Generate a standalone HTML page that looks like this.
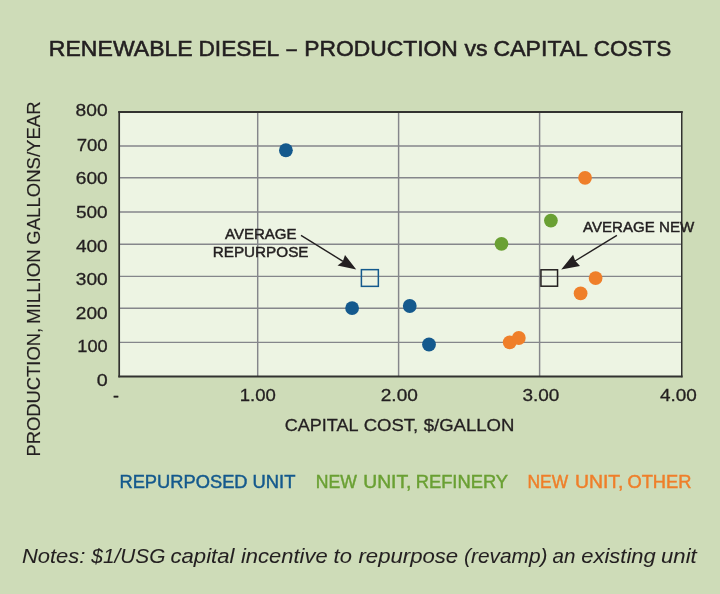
<!DOCTYPE html>
<html><head><meta charset="utf-8">
<style>
html,body{margin:0;padding:0;}
body{width:720px;height:594px;overflow:hidden;background:#cedcb8;}
svg{display:block;font-family:"Liberation Sans",Arial,Helvetica,sans-serif;}
</style></head><body>
<svg width="720" height="594" viewBox="0 0 720 594">
<rect width="720" height="594" fill="#cedcb8"/>
<text transform="translate(48.87,56.1) scale(1.0574,1)" font-size="21.8" fill="#231f20" stroke="#231f20" stroke-width="0.55">RENEWABLE</text>
<text transform="translate(198.40,56.1) scale(1.0427,1)" font-size="21.8" fill="#231f20" stroke="#231f20" stroke-width="0.55">DIESEL</text>
<text transform="translate(286.52,56.1) scale(0.8430,1)" font-size="21.8" fill="#231f20" stroke="#231f20" stroke-width="0.55">–</text>
<text transform="translate(304.14,56.1) scale(1.0486,1)" font-size="21.8" fill="#231f20" stroke="#231f20" stroke-width="0.55">PRODUCTION</text>
<text transform="translate(464.42,56.1) scale(1.0622,1)" font-size="21.8" fill="#231f20" stroke="#231f20" stroke-width="0.55">vs</text>
<text transform="translate(493.61,56.1) scale(1.0578,1)" font-size="21.8" fill="#231f20" stroke="#231f20" stroke-width="0.55">CAPITAL</text>
<text transform="translate(593.64,56.1) scale(1.0356,1)" font-size="21.8" fill="#231f20" stroke="#231f20" stroke-width="0.55">COSTS</text>
<rect x="119.2" y="112.0" width="562.55" height="264.5" fill="#edf4e3"/>
<g stroke="#85868b" stroke-width="1.4">
<line x1="119.2" x2="681.75" y1="146" y2="146"/>
<line x1="119.2" x2="681.75" y1="177.75" y2="177.75"/>
<line x1="119.2" x2="681.75" y1="212" y2="212"/>
<line x1="119.2" x2="681.75" y1="244.2" y2="244.2"/>
<line x1="119.2" x2="681.75" y1="276.35" y2="276.35"/>
<line x1="119.2" x2="681.75" y1="308.3" y2="308.3"/>
<line x1="119.2" x2="681.75" y1="342.4" y2="342.4"/>
<line y1="112.0" y2="376.5" x1="257.7" x2="257.7" stroke-width="1.45"/>
<line y1="112.0" y2="376.5" x1="398.6" x2="398.6" stroke-width="1.45"/>
<line y1="112.0" y2="376.5" x1="539.6" x2="539.6" stroke-width="1.45"/>
</g>
<g stroke="#323230" stroke-linecap="square">
<line x1="119.2" y1="112" x2="119.2" y2="376.5" stroke-width="1.7"/>
<line x1="119.2" y1="112" x2="681.75" y2="112" stroke-width="1.9"/>
<line x1="681.75" y1="112" x2="681.75" y2="376.5" stroke-width="1.5"/>
<line x1="119.2" y1="376.5" x2="681.75" y2="376.5" stroke-width="1.8"/>
</g>
<text transform="translate(75.61,116.4) scale(1.1315,1)" font-size="17" fill="#231f20" stroke="#231f20" stroke-width="0.3">800</text>
<text transform="translate(76.67,150.6) scale(1.0933,1)" font-size="17" fill="#231f20" stroke="#231f20" stroke-width="0.3">700</text>
<text transform="translate(75.74,183.8) scale(1.1269,1)" font-size="17" fill="#231f20" stroke="#231f20" stroke-width="0.3">600</text>
<text transform="translate(75.97,217.5) scale(1.1185,1)" font-size="17" fill="#231f20" stroke="#231f20" stroke-width="0.3">500</text>
<text transform="translate(75.95,251.7) scale(1.1190,1)" font-size="17" fill="#231f20" stroke="#231f20" stroke-width="0.3">400</text>
<text transform="translate(75.76,284.8) scale(1.1259,1)" font-size="17" fill="#231f20" stroke="#231f20" stroke-width="0.3">300</text>
<text transform="translate(75.85,319.2) scale(1.1227,1)" font-size="17" fill="#231f20" stroke="#231f20" stroke-width="0.3">200</text>
<text transform="translate(77.26,351.9) scale(1.0720,1)" font-size="17" fill="#231f20" stroke="#231f20" stroke-width="0.3">100</text>
<text transform="translate(96.74,386.0) scale(1.1605,1)" font-size="17" fill="#231f20" stroke="#231f20" stroke-width="0.3">0</text>
<text transform="translate(112.92,401.4) scale(1.0476,1)" font-size="17" fill="#231f20" stroke="#231f20" stroke-width="0.3">-</text>
<text transform="translate(239.73,401.4) scale(1.0916,1)" font-size="17" fill="#231f20" stroke="#231f20" stroke-width="0.3">1.00</text>
<text transform="translate(380.75,401.4) scale(1.1218,1)" font-size="17" fill="#231f20" stroke="#231f20" stroke-width="0.3">2.00</text>
<text transform="translate(522.47,401.4) scale(1.1151,1)" font-size="17" fill="#231f20" stroke="#231f20" stroke-width="0.3">3.00</text>
<text transform="translate(659.95,401.4) scale(1.1156,1)" font-size="17" fill="#231f20" stroke="#231f20" stroke-width="0.3">4.00</text>
<text transform="translate(284.71,430.9) scale(1.0479,1)" font-size="17.2" fill="#231f20" stroke="#231f20" stroke-width="0.3">CAPITAL</text>
<text transform="translate(363.68,430.9) scale(1.0778,1)" font-size="17.2" fill="#231f20" stroke="#231f20" stroke-width="0.3">COST,</text>
<text transform="translate(423.68,430.9) scale(1.0794,1)" font-size="17.2" fill="#231f20" stroke="#231f20" stroke-width="0.3">$/GALLON</text>
<text transform="translate(40.1,456.53) rotate(-90) scale(1.0212,1)" font-size="18" fill="#231f20" stroke="#231f20" stroke-width="0.15">PRODUCTION,</text>
<text transform="translate(40.1,324.06) rotate(-90) scale(1.0399,1)" font-size="18" fill="#231f20" stroke="#231f20" stroke-width="0.15">MILLION</text>
<text transform="translate(40.1,244.68) rotate(-90) scale(1.0317,1)" font-size="18" fill="#231f20" stroke="#231f20" stroke-width="0.15">GALLONS/YEAR</text>
<circle cx="285.9" cy="150.25" r="6.9" fill="#14598d"/>
<circle cx="352.1" cy="308.1" r="6.9" fill="#14598d"/>
<circle cx="409.75" cy="306" r="6.9" fill="#14598d"/>
<circle cx="429" cy="344.5" r="6.9" fill="#14598d"/>
<circle cx="501.5" cy="243.8" r="6.9" fill="#6aa033"/>
<circle cx="550.9" cy="220.6" r="6.9" fill="#6aa033"/>
<circle cx="585.05" cy="177.85" r="6.9" fill="#ef7f2a"/>
<circle cx="595.6" cy="278.1" r="6.9" fill="#ef7f2a"/>
<circle cx="580.6" cy="293.4" r="6.9" fill="#ef7f2a"/>
<circle cx="509.7" cy="342.3" r="6.9" fill="#ef7f2a"/>
<circle cx="518.8" cy="338" r="6.9" fill="#ef7f2a"/>
<rect x="361.4" y="269.65" width="16.95" height="16.7" fill="none" stroke="#14598d" stroke-width="1.5"/>
<rect x="540.95" y="269.8" width="16.6" height="16.4" fill="none" stroke="#231f20" stroke-width="1.5"/>
<text transform="translate(224.97,238.65) scale(1.0312,1)" font-size="14.6" fill="#231f20" stroke="#231f20" stroke-width="0.45">AVERAGE</text>
<text transform="translate(212.72,256.6) scale(1.0457,1)" font-size="14.6" fill="#231f20" stroke="#231f20" stroke-width="0.45">REPURPOSE</text>
<text transform="translate(583.12,232.1) scale(1.0312,1)" font-size="14.6" fill="#231f20" stroke="#231f20" stroke-width="0.45">AVERAGE</text>
<text transform="translate(658.98,232.1) scale(1.0351,1)" font-size="14.6" fill="#231f20" stroke="#231f20" stroke-width="0.45">NEW</text>
<g fill="#231f20" stroke="#231f20" stroke-width="1.4">
<line x1="301" y1="235.4" x2="343" y2="261.3"/>
<polygon stroke="none" points="356.25,269.4 337.5,265.6 342.7,261.7 345,255"/>
<line x1="616.9" y1="235.4" x2="575" y2="261"/>
<polygon stroke="none" points="561.25,269.4 573.1,254.75 575.2,260.8 580,266"/>
</g>
<text transform="translate(119.43,487.75) scale(1.0286,1)" font-size="17.8" fill="#14598d" stroke="#14598d" stroke-width="0.45">REPURPOSED</text>
<text transform="translate(252.53,487.75) scale(1.0314,1)" font-size="17.8" fill="#14598d" stroke="#14598d" stroke-width="0.45">UNIT</text>
<text transform="translate(315.74,487.75) scale(0.9912,1)" font-size="17.8" fill="#6aa033" stroke="#6aa033" stroke-width="0.45">NEW</text>
<text transform="translate(363.21,487.75) scale(1.0829,1)" font-size="17.8" fill="#6aa033" stroke="#6aa033" stroke-width="0.45">UNIT,</text>
<text transform="translate(415.68,487.75) scale(1.0302,1)" font-size="17.8" fill="#6aa033" stroke="#6aa033" stroke-width="0.45">REFINERY</text>
<text transform="translate(527.51,487.75) scale(0.9787,1)" font-size="17.8" fill="#ef7f2a" stroke="#ef7f2a" stroke-width="0.45">NEW</text>
<text transform="translate(574.95,487.75) scale(1.0889,1)" font-size="17.8" fill="#ef7f2a" stroke="#ef7f2a" stroke-width="0.45">UNIT,</text>
<text transform="translate(627.40,487.75) scale(1.0281,1)" font-size="17.8" fill="#ef7f2a" stroke="#ef7f2a" stroke-width="0.45">OTHER</text>
<text transform="translate(21.89,562.9) scale(1.0500,1)" font-size="20.9" fill="#231f20" stroke="#231f20" stroke-width="0.05" font-style="italic">Notes:</text>
<text transform="translate(91.37,562.9) scale(0.9959,1)" font-size="20.9" fill="#231f20" stroke="#231f20" stroke-width="0.05" font-style="italic">$1/USG</text>
<text transform="translate(170.53,562.9) scale(1.0581,1)" font-size="20.9" fill="#231f20" stroke="#231f20" stroke-width="0.05" font-style="italic">capital</text>
<text transform="translate(240.96,562.9) scale(1.0515,1)" font-size="20.9" fill="#231f20" stroke="#231f20" stroke-width="0.05" font-style="italic">incentive</text>
<text transform="translate(333.58,562.9) scale(1.0503,1)" font-size="20.9" fill="#231f20" stroke="#231f20" stroke-width="0.05" font-style="italic">to</text>
<text transform="translate(358.46,562.9) scale(1.0602,1)" font-size="20.9" fill="#231f20" stroke="#231f20" stroke-width="0.05" font-style="italic">repurpose</text>
<text transform="translate(464.03,562.9) scale(0.9988,1)" font-size="20.9" fill="#231f20" stroke="#231f20" stroke-width="0.05" font-style="italic">(revamp)</text>
<text transform="translate(552.53,562.9) scale(0.9839,1)" font-size="20.9" fill="#231f20" stroke="#231f20" stroke-width="0.05" font-style="italic">an</text>
<text transform="translate(581.29,562.9) scale(1.0508,1)" font-size="20.9" fill="#231f20" stroke="#231f20" stroke-width="0.05" font-style="italic">existing</text>
<text transform="translate(661.07,562.9) scale(1.0582,1)" font-size="20.9" fill="#231f20" stroke="#231f20" stroke-width="0.05" font-style="italic">unit</text>
</svg>
</body></html>
